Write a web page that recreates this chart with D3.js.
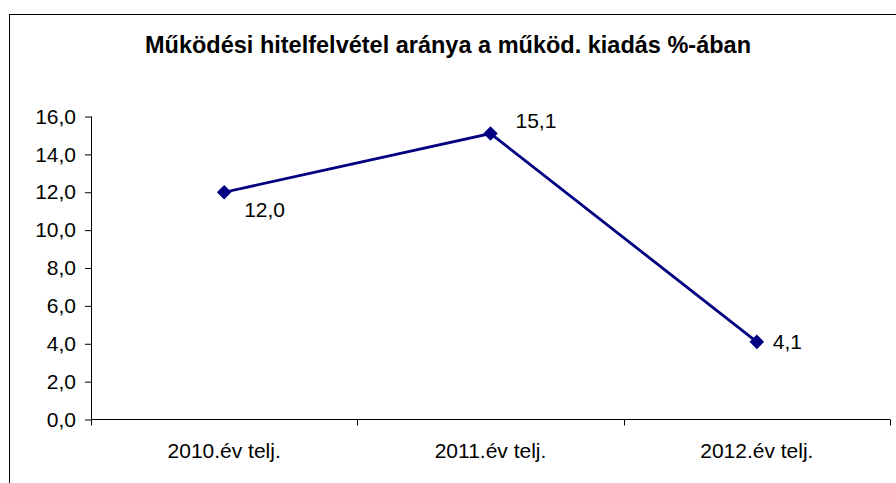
<!DOCTYPE html>
<html>
<head>
<meta charset="utf-8">
<script src="https://cdn.jsdelivr.net/npm/d3@7"></script>
<style>
  body { margin: 0; background: #fff; }
  text { font-family: "Liberation Sans", Arial, sans-serif; }
</style>
</head>
<body>
<div id="chart"></div>
<script>
// data
const categories = ["2010.év telj.", "2011.év telj.", "2012.év telj."];
const values = [12.0, 15.1, 4.1];
const yTicks = [0, 2, 4, 6, 8, 10, 12, 14, 16];
const title = "Működési hitelfelvétel aránya a működ. kiadás %-ában";

const width = 896, height = 483;
const svg = d3.select("#chart").append("svg")
    .attr("width", width).attr("height", height);

// outer frame (right/bottom edges fall outside the picture)
svg.append("rect").attr("x", 9.5).attr("y", 14.5)
    .attr("width", 900).attr("height", 500)
    .attr("fill", "none").attr("stroke", "#000").attr("stroke-width", 1);

svg.append("text").attr("x", 448).attr("y", 53)
    .attr("text-anchor", "middle").attr("font-size", 23.5).attr("font-weight", "bold")
    .text(title);

const x = d3.scaleBand().domain(categories).range([91, 890]);
const y = d3.scaleLinear().domain([0, 16]).range([419.5, 116.5]);
const fmt = d => d3.format(".1f")(d).replace(".", ",");

// y axis
const yAxis = svg.append("g").attr("transform", "translate(91,0)")
    .call(d3.axisLeft(y).tickValues(yTicks).tickSize(6).tickPadding(9).tickFormat(fmt));
yAxis.selectAll("text").attr("font-size", 21).attr("fill", "#000")
    .style("font-family", "Liberation Sans, Arial, sans-serif");
yAxis.select(".domain").attr("d", "M0.5,116.5V419.5");

// x axis
const xAxis = svg.append("g").attr("transform", "translate(0,419.5)");
xAxis.append("line").attr("x1", 91).attr("x2", 890).attr("stroke", "#000");
xAxis.selectAll(".tick").data([...categories.map(c => x(c)), x.range()[1]])
  .enter().append("line")
    .attr("x1", d => Math.round(d) + 0.5).attr("x2", d => Math.round(d) + 0.5)
    .attr("y1", 0).attr("y2", 6).attr("stroke", "#000");
xAxis.selectAll(".lbl").data(categories).enter().append("text")
    .attr("x", d => x(d) + x.bandwidth() / 2).attr("y", 38)
    .attr("text-anchor", "middle").attr("font-size", 21).text(d => d);

// line
const cx = d => x(d) + x.bandwidth() / 2;
svg.append("path").datum(values)
    .attr("fill", "none").attr("stroke", "#000080").attr("stroke-width", 2.8)
    .attr("d", d3.line().x((d, i) => cx(categories[i])).y(d => y(d)));

svg.selectAll(".mk").data(values).enter().append("path")
    .attr("transform", (d, i) => `translate(${cx(categories[i])},${y(d)})`)
    .attr("d", d3.symbol().type(d3.symbolDiamond2).size(135))
    .attr("fill", "#000080");

// data labels
const labelOffsets = [[20, 25], [25, -6], [16, 7]];
svg.selectAll(".dl").data(values).enter().append("text")
    .attr("x", (d, i) => cx(categories[i]) + labelOffsets[i][0])
    .attr("y", (d, i) => y(d) + labelOffsets[i][1])
    .attr("font-size", 21)
    .text(fmt);
</script>
</body>
</html>
